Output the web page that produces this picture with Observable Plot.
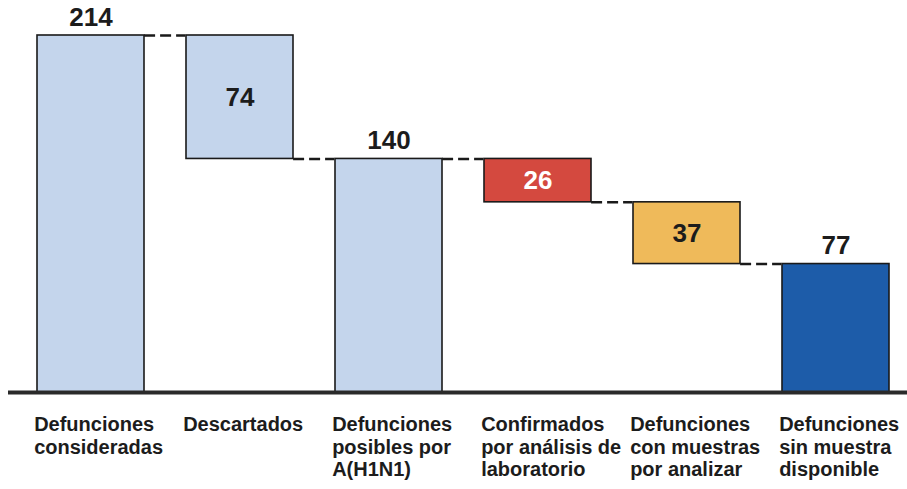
<!DOCTYPE html>
<html>
<head>
<meta charset="utf-8">
<script src="https://cdn.jsdelivr.net/npm/d3@7"></script>
<script src="https://cdn.jsdelivr.net/npm/@observablehq/plot@0.6"></script>
<style>
  html, body { margin: 0; padding: 0; background: #ffffff; }
  #chart svg { display: block; }
</style>
</head>
<body>
<div id="chart"></div>
<script>
const labels = [
  "Defunciones\nconsideradas",
  "Descartados",
  "Defunciones\nposibles por\nA(H1N1)",
  "Confirmados\npor análisis de\nlaboratorio",
  "Defunciones\ncon muestras\npor analizar",
  "Defunciones\nsin muestra\ndisponible"
];
const values = [214, 74, 140, 26, 37, 77];
const kinds = ["total", "decrease", "total", "decrease", "decrease", "total"];
const colors = ["#c4d5ec", "#c4d5ec", "#c4d5ec", "#d4493f", "#efba5a", "#1d5ca9"];
const valueColors = ["#1c1c1c", "#1c1c1c", "#1c1c1c", "#ffffff", "#1c1c1c", "#1c1c1c"];

// Build waterfall rows from the values
let running = 0;
const rows = labels.map((label, i) => {
  let y1, y2;
  if (kinds[i] === "total") { y1 = 0; y2 = values[i]; running = values[i]; }
  else { y2 = running; y1 = running - values[i]; running = y1; }
  return {label, value: values[i], kind: kinds[i], y1, y2, fill: colors[i], tcolor: valueColors[i], after: running};
});
const connectors = rows.slice(1).map((r, i) => ({label: r.label, level: rows[i].after}));

const W = 907, H = 489, mL = 35, mR = 16, mT = 35, mB = 97;
const band = d3.scaleBand().domain(labels).range([mL, W - mR]).paddingInner(0.28).paddingOuter(0);
const bw = band.bandwidth();
const gap = band.step() - bw;

const font = "'Liberation Sans', Arial, sans-serif";

const chart = Plot.plot({
  width: W,
  height: H,
  marginLeft: mL,
  marginRight: mR,
  marginTop: mT,
  marginBottom: mB,
  style: {fontFamily: font, background: "#ffffff", overflow: "visible"},
  x: {domain: labels, paddingInner: 0.28, paddingOuter: 0, axis: null},
  y: {domain: [0, 214], axis: null},
  color: {type: "identity"},
  marks: [
    Plot.barY(rows, {x: "label", y1: "y1", y2: "y2", fill: "fill", stroke: "#1a1a1a", strokeWidth: 1.6}),
    Plot.tickY(connectors, {x: "label", y: "level", stroke: "#1a1a1a", strokeWidth: 2.4,
      strokeDasharray: "11,5", insetLeft: -gap, insetRight: bw}),
    Plot.ruleY([0], {stroke: "#2a2a2a", strokeWidth: 4, insetLeft: -27, insetRight: -16}),
    // totals: value above bar
    Plot.text(rows.filter(d => d.kind === "total"), {x: "label", y: "y2", text: d => String(d.value),
      dy: -18, fill: "tcolor", fontSize: 26, fontWeight: "bold"}),
    // decreases: value centered in bar
    Plot.text(rows.filter(d => d.kind === "decrease"), {x: "label", y: d => (d.y1 + d.y2) / 2, text: d => String(d.value),
      fill: "tcolor", fontSize: 26, fontWeight: "bold"}),
    // category labels
    Plot.text(rows, {x: "label", y: 0, text: "label", textAnchor: "start", lineAnchor: "top",
      dx: -bw / 2 - 3, dy: 23, fontSize: 20, fontWeight: "bold", lineHeight: 1.12, fill: "#1c1c1c"})
  ]
});
document.getElementById("chart").appendChild(chart);
</script>
</body>
</html>
